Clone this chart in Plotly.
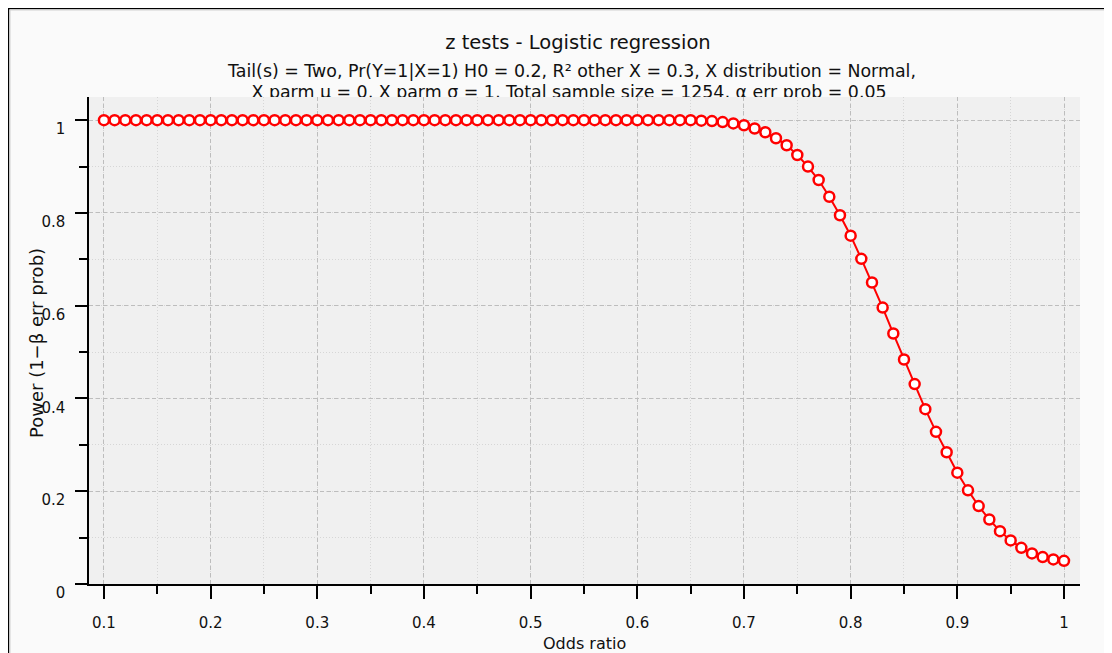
import plotly.graph_objects as go

odds_ratio = [
    0.10, 0.11, 0.12, 0.13, 0.14, 0.15, 0.16, 0.17, 0.18, 0.19,
    0.20, 0.21, 0.22, 0.23, 0.24, 0.25, 0.26, 0.27, 0.28, 0.29,
    0.30, 0.31, 0.32, 0.33, 0.34, 0.35, 0.36, 0.37, 0.38, 0.39,
    0.40, 0.41, 0.42, 0.43, 0.44, 0.45, 0.46, 0.47, 0.48, 0.49,
    0.50, 0.51, 0.52, 0.53, 0.54, 0.55, 0.56, 0.57, 0.58, 0.59,
    0.60, 0.61, 0.62, 0.63, 0.64, 0.65, 0.66, 0.67, 0.68, 0.69,
    0.70, 0.71, 0.72, 0.73, 0.74, 0.75, 0.76, 0.77, 0.78, 0.79,
    0.80, 0.81, 0.82, 0.83, 0.84, 0.85, 0.86, 0.87, 0.88, 0.89,
    0.90, 0.91, 0.92, 0.93, 0.94, 0.95, 0.96, 0.97, 0.98, 0.99,
    1.00,
]
power = [
    1.000, 1.000, 1.000, 1.000, 1.000, 1.000, 1.000, 1.000, 1.000, 1.000,
    1.000, 1.000, 1.000, 1.000, 1.000, 1.000, 1.000, 1.000, 1.000, 1.000,
    1.000, 1.000, 1.000, 1.000, 1.000, 1.000, 1.000, 1.000, 1.000, 1.000,
    1.000, 1.000, 1.000, 1.000, 1.000, 1.000, 1.000, 1.000, 1.000, 1.000,
    1.000, 1.000, 1.000, 1.000, 1.000, 1.000, 1.000, 1.000, 1.000, 1.000,
    1.000, 1.000, 1.000, 1.000, 1.000, 1.000, 0.999, 0.998, 0.996, 0.993,
    0.989, 0.982, 0.974, 0.961, 0.946, 0.925, 0.900, 0.871, 0.835, 0.795,
    0.751, 0.701, 0.650, 0.596, 0.540, 0.484, 0.431, 0.377, 0.328, 0.284,
    0.240, 0.202, 0.168, 0.139, 0.114, 0.094, 0.078, 0.066, 0.058, 0.053,
    0.050,
]

x_ticks = [0.1, 0.2, 0.3, 0.4, 0.5, 0.6, 0.7, 0.8, 0.9, 1.0]
x_ticktext = ["0.1", "0.2", "0.3", "0.4", "0.5", "0.6", "0.7", "0.8", "0.9", "1"]
y_ticks = [0, 0.2, 0.4, 0.6, 0.8, 1.0]
y_ticktext = ["0", "0.2", "0.4", "0.6", "0.8", "1"]

title = "z tests - Logistic regression"
subtitle = [
    "Tail(s) = Two, Pr(Y=1|X=1) H0 = 0.2, R² other X = 0.3, X distribution = Normal,",
    "X parm μ = 0, X parm σ = 1, Total sample size = 1254, α err prob = 0.05",
]

FONT = "DejaVu Sans, Verdana, sans-serif"
# the page body has an 8px margin, so the figure starts at (8, 8)
W, H = 1104, 645
ML, MR, MT, MB = 81, 32, 12, 69
PW = W - ML - MR
PH = H - MT - MB
main_top = 487 / PH  # plot area is 487 px tall

fig = go.Figure()

fig.add_trace(go.Scatter(
    x=odds_ratio, y=power,
    mode="lines+markers",
    line=dict(color="#ff0000", width=2),
    marker=dict(symbol="circle", size=10, color="white",
                line=dict(color="#ff0000", width=2.5)),
    cliponaxis=False,
    showlegend=False,
))

# title block lives in its own (hidden) subplot so the last line gets clipped
# by the top of the plot area, as in the original
fig.add_trace(go.Scatter(
    x=[578, 572, 569], y=[-44, -73, -94],
    text=[title] + subtitle,
    mode="text",
    textposition="middle center",
    textfont=dict(family=FONT, size=[19.5, 17.4, 17.4], color="#111111"),
    xaxis="x2", yaxis="y2",
    cliponaxis=True,
    showlegend=False,
    hoverinfo="skip",
))

axis_common = dict(
    showline=True, linecolor="black", linewidth=1.5,
    ticks="outside", tickcolor="black", tickwidth=1.5,
    showgrid=True, gridcolor="#bdbdbd", gridwidth=1, griddash="4px,3px",
    zeroline=False,
    tickfont=dict(family=FONT, size=15, color="#111111"),
)

fig.update_layout(
    width=W, height=H,
    margin=dict(l=ML, r=MR, t=MT, b=MB),
    paper_bgcolor="white",
    plot_bgcolor="rgba(0,0,0,0)",
    xaxis=dict(
        **axis_common,
        range=[0.086, 1.015],
        tickvals=x_ticks, ticktext=x_ticktext,
        ticklen=13, ticklabelstandoff=11,
        minor=dict(dtick=0.05, tick0=0.05, ticks="outside", ticklen=8,
                   tickcolor="black", tickwidth=1.5,
                   showgrid=True, gridcolor="#d6d6d6", griddash="1px,2px"),
    ),
    yaxis=dict(
        **axis_common,
        domain=[0, main_top],
        range=[0, 1.05],
        tickvals=y_ticks, ticktext=y_ticktext,
        ticklen=12, ticklabelstandoff=7, ticklabelshift=9,
        minor=dict(dtick=0.1, tick0=0, ticks="outside", ticklen=8,
                   tickcolor="black", tickwidth=1.5,
                   showgrid=True, gridcolor="#d6d6d6", griddash="1px,2px"),
    ),
    # hidden axes in window pixel units for the title block
    xaxis2=dict(domain=[0, 1], range=[89, 1080], visible=False,
                anchor="y2", fixedrange=True),
    yaxis2=dict(domain=[main_top, 1], range=[-97, -20],
                visible=False, anchor="x2", fixedrange=True),
    shapes=[
        # outer window frame
        dict(type="rect", xref="paper", yref="paper", layer="below",
             x0=-ML / PW, x1=1.2, y0=-0.3, y1=(H - MB) / PH,
             fillcolor="#fafafa", line=dict(color="black", width=2.5)),
        dict(type="rect", xref="paper", yref="paper", layer="below",
             x0=(2 - ML) / PW, x1=1.2, y0=-0.3, y1=(H - MB - 2) / PH,
             fillcolor="rgba(0,0,0,0)", line=dict(color="#d0d0d0", width=1)),
        # plot area background
        dict(type="rect", xref="paper", yref="paper", layer="below",
             x0=0, x1=1, y0=0, y1=main_top,
             fillcolor="#f0f0f0", line=dict(width=0)),
    ],
    annotations=[
        dict(text="Power (1−β err prob)", xref="paper", yref="paper",
             x=(28 - ML) / PW, y=(H - MB - 335) / PH,
             textangle=-90, showarrow=False,
             xanchor="center", yanchor="middle",
             font=dict(family=FONT, size=18, color="#111111")),
        dict(text="Odds ratio", xref="paper", yref="paper",
             x=(576 - ML) / PW, y=-(635 - (H - MB)) / PH,
             showarrow=False, xanchor="center", yanchor="middle",
             font=dict(family=FONT, size=16, color="#111111")),
    ],
)

fig.write_html("out.html")
